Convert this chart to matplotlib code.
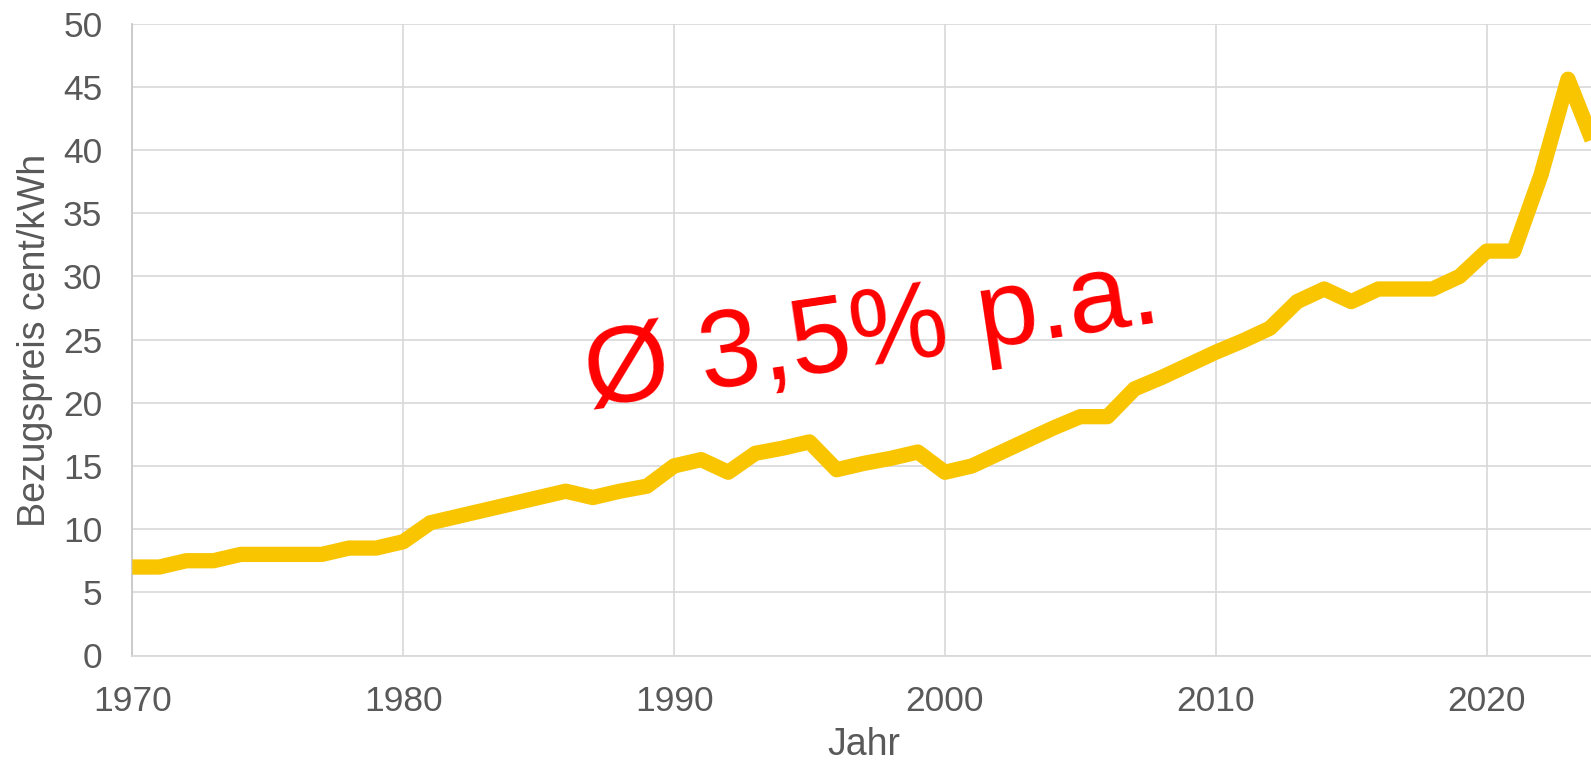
import matplotlib
matplotlib.use("Agg")
import matplotlib.pyplot as plt

years = list(range(1970, 2025))
prices = [7.0, 7.0, 7.5, 7.5, 8.0, 8.0, 8.0, 8.0, 8.5, 8.5,
          9.0, 10.5, 11.0, 11.5, 12.0, 12.5, 13.0, 12.5, 13.0, 13.4,
          15.0, 15.5, 14.5, 16.0, 16.4, 16.9, 14.7, 15.2, 15.6, 16.1,
          14.5, 15.0, 16.0, 17.0, 18.0, 18.9, 18.9, 21.1, 22.0, 23.0,
          24.0, 24.9, 25.9, 28.0, 29.0, 28.0, 29.0, 29.0, 29.0, 30.0,
          32.0, 32.0, 38.0, 45.6, 40.2]
x_ticks = [1970, 1980, 1990, 2000, 2010, 2020]
y_ticks = [0, 5, 10, 15, 20, 25, 30, 35, 40, 45, 50]
annotation = "Ø 3,5% p.a."
x_label = "Jahr"
y_label = "Bezugspreis cent/kWh"

W, H = 1591, 760
plt.rcParams['font.family'] = ['Liberation Sans', 'DejaVu Sans']
fig = plt.figure(figsize=(W / 100, H / 100), dpi=100)
left_px, right_px, top_px, bottom_px = 132.3, 1591, 23.6, 655.5
ax = fig.add_axes([left_px / W, 1 - bottom_px / H,
                   (right_px - left_px) / W, (bottom_px - top_px) / H])

ax.plot(years, prices, color='#F8C500', lw=11, solid_joinstyle='round',
        solid_capstyle='butt', zorder=3)

ax.set_xlim(1970, 2023.85)
ax.set_ylim(0, 50)
ax.set_xticks(x_ticks)
ax.set_yticks(y_ticks)
ax.grid(True, color='#D9D9D9', lw=1.25, zorder=0)
ax.set_axisbelow(True)
for s in ['top', 'right']:
    ax.spines[s].set_visible(False)
ax.spines['left'].set_color('#C8C8C8')
ax.spines['bottom'].set_color('#D9D9D9')
ax.spines['left'].set_linewidth(1.3)
ax.spines['bottom'].set_linewidth(1.3)
ax.tick_params(axis='both', length=0, labelsize=25.5, labelcolor='#595959')
ax.tick_params(axis='y', pad=21.5)
ax.tick_params(axis='x', pad=21)

fig.text(35 / W, 1 - 340 / H, y_label, rotation=90, ha='center', va='center',
         fontsize=27, color='#595959')
fig.text(864 / W, 1 - 755 / H, x_label, ha='center', va='baseline',
         fontsize=27, color='#595959')

ax.text(1997.45, 23.0, annotation, color='#FF0000', fontsize=79,
        rotation=8.5, rotation_mode='anchor', ha='center', va='baseline', zorder=4)

fig.savefig('out.png', dpi=100)
